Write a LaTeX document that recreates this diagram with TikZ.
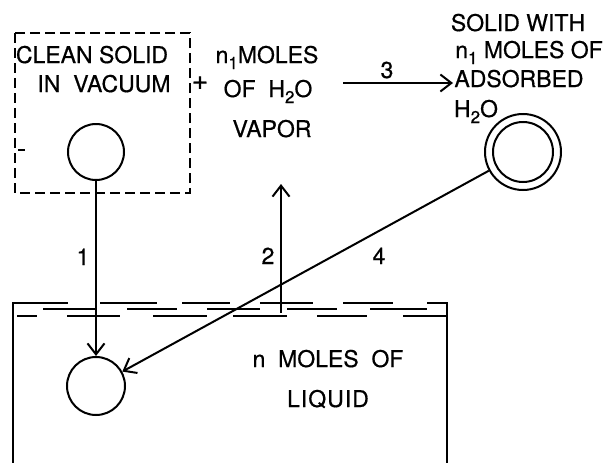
\documentclass[tikz,border=0pt]{standalone}
\usepackage{fontspec}
\setmainfont{TeX Gyre Heros}[FakeBold=0.6]
\usetikzlibrary{arrows.meta}
\newcommand\lowsub[1]{\raisebox{-6pt}{\fontsize{17}{17}\selectfont #1}}
\begin{document}
\begin{tikzpicture}[x=1pt,y=-1pt,line width=2pt,
  lbl/.style={anchor=base,inner sep=0pt,font=\fontsize{23}{23}\selectfont},
  arr/.style={-{Straight Barb[length=11pt,width=17pt,line width=2pt]}},
  ring/.style={circle,draw,inner sep=0pt},
  boxdash/.style={dash pattern=on 10pt off 5pt,line width=2.2pt}]
\useasboundingbox (0,0) rectangle (608,463);

% dashed box round the clean solid
\draw[boxdash] (15,33) rectangle (190,193);
\draw (18,150) -- (25,150);

% texts
\node[lbl] (clean) at (92,63) {CLEAN SOLID};
\node[lbl] (vac) at (104,92) {IN\ \ VACUUM};
\node[anchor=center,inner sep=0pt,font=\fontsize{28}{28}\selectfont] (plus) at (200,83) {+};
\node[lbl] (n1) at (267,63) {n\lowsub{1}MOLES};
\node[lbl] (ofh) at (268,97) {OF\ \ H\lowsub{2}O};
\node[lbl] (vap) at (272,137) {VAPOR};
\node[lbl] (sw) at (518,31) {SOLID WITH};
\node[lbl] (n1b) at (529,58) {n\lowsub{1} MOLES OF};
\node[lbl] (ads) at (519,87) {ADSORBED};
\node[lbl] (h2o) at (476,117) {H\lowsub{2}O};
\node[lbl] (l3) at (387,78) {3};
\node[lbl] (l1) at (83,265) {1};
\node[lbl] (l2) at (268,264) {2};
\node[lbl] (l4) at (379,264) {4};
\node[lbl] (nml) at (328,367) {n\ \ MOLES\ \ OF};
\node[lbl] (liq) at (328,407) {L\kern1pt I\kern1pt Q\kern1pt U\kern1pt I\kern1pt D};

% solids
\node[ring,minimum size=56pt] (topc) at (96,152) {};
\node[ring,minimum size=58pt] (lowc) at (96,386) {};
\node[ring,minimum size=76pt] (dbl) at (523,152) {};
\node[ring,minimum size=60pt] (dblin) at (523,152) {};

% liquid container
\draw (13,463) -- (13,302.5) -- (68,302.5);
\draw (427,302.5) -- (447,302.5) -- (447,463);
\foreach \a/\b in {100/157,182/230,260/313,343/393}
  \draw (\a,302.5) -- (\b,302.5);
\foreach \a/\b in {43/97,127/177,207/260,287/337,370/427}
  \draw (\a,308.5) -- (\b,308.5);
\foreach \a/\b in {17/37,67/120,153/207,233/287,317/367,403/447}
  \draw (\a,316) -- (\b,316);

% connectors
\coordinate (s2) at (281,313);
\coordinate (e2) at (281,184);
\coordinate (s3) at (343,83);
\coordinate (e3) at (453,83);
\draw[arr] (topc.south) -- (lowc.north);
\draw[arr] (s2) -- (e2);
\draw[arr] (s3) -- (e3);
\draw[arr] (dbl) -- (lowc);
\end{tikzpicture}
\end{document}
